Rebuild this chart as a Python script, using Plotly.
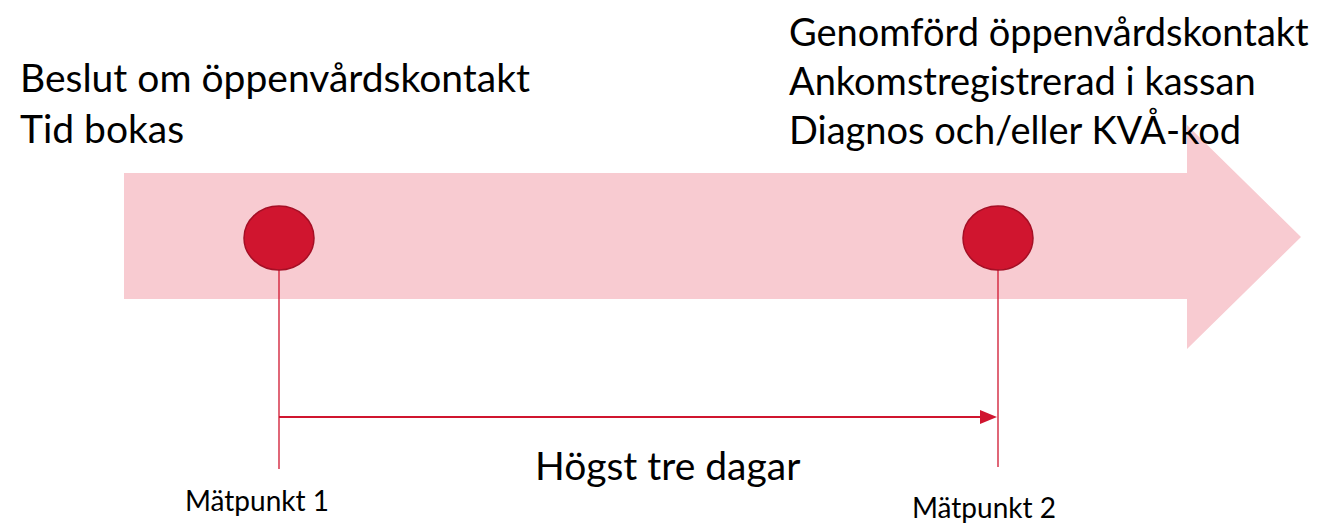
import plotly.graph_objects as go

# ---- content ----
left_lines = ["Beslut om öppenvårdskontakt", "Tid bokas"]
right_lines = ["Genomförd öppenvårdskontakt", "Ankomstregistrerad i kassan", "Diagnos och/eller KVÅ-kod"]
right_y = [31, 80, 129]
milestone_labels = ["Mätpunkt 1", "Mätpunkt 2"]
milestone_x = [279, 998]
label_x = [257, 984]
label_y = [500, 507]
span_label = "Högst tre dagar"

W, H = 1334, 524
M = 8  # page body margin
PINK = "#F8CBD1"
RED = "#D0152F"
DARK = "#A50F25"
FONT = "Lato"
BIG = 39

fig = go.Figure()
fig.add_trace(go.Scatter(x=[M, W], y=[M, H], mode="markers", marker=dict(opacity=0),
                         hoverinfo="skip", showlegend=False))

shapes = []
# big pink arrow
shapes.append(dict(type="path", layer="below",
                   path="M 124 173 L 1187 173 L 1187 125 L 1301 237 L 1187 349 L 1187 299 L 124 299 Z",
                   fillcolor=PINK, line=dict(width=0)))
# vertical lines + circles
for x, yb in zip(milestone_x, [469, 467]):
    shapes.append(dict(type="line", x0=x, x1=x, y0=238, y1=yb, line=dict(color=RED, width=1.3)))
    shapes.append(dict(type="circle", x0=x - 35, x1=x + 35, y0=206, y1=270,
                       fillcolor=RED, line=dict(color=DARK, width=1.5)))
# horizontal arrow
shapes.append(dict(type="line", x0=milestone_x[0], x1=milestone_x[1] - 16, y0=417, y1=417,
                   line=dict(color=RED, width=2)))
shapes.append(dict(type="path",
                   path=f"M {milestone_x[1]-18} 410 L {milestone_x[1]-1} 417 L {milestone_x[1]-18} 424 Z",
                   fillcolor=RED, line=dict(width=0)))

ann = []
for i, t in enumerate(left_lines):
    ann.append(dict(x=18, y=77 + 51 * i, text=t, xanchor="left", yanchor="middle", showarrow=False,
                    font=dict(family=FONT, size=BIG, color="#000")))
for y, t in zip(right_y, right_lines):
    ann.append(dict(x=787, y=y, text=t, xanchor="left", yanchor="middle", showarrow=False,
                    font=dict(family=FONT, size=38, color="#000")))
ann.append(dict(x=667, y=465, text=span_label, xanchor="center", yanchor="middle", showarrow=False,
                font=dict(family=FONT, size=BIG, color="#000")))
for x, y, t in zip(label_x, label_y, milestone_labels):
    ann.append(dict(x=x, y=y, text=t, xanchor="center", yanchor="middle", showarrow=False,
                    font=dict(family=FONT, size=28, color="#000")))

fig.update_layout(width=W - M, height=H - M, margin=dict(l=0, r=0, t=0, b=0),
                  paper_bgcolor="white", plot_bgcolor="white",
                  xaxis=dict(range=[M, W], visible=False, fixedrange=True),
                  yaxis=dict(range=[H, M], visible=False, fixedrange=True),
                  shapes=shapes, annotations=ann, showlegend=False)
fig.write_html("out.html")
